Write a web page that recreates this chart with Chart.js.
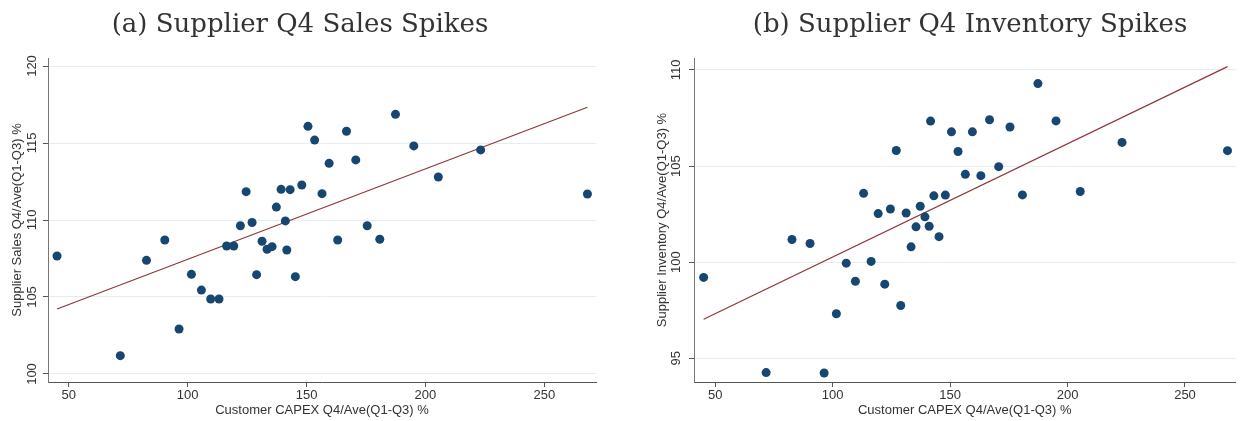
<!DOCTYPE html>
<html>
<head>
<meta charset="utf-8">
<script src="https://cdn.jsdelivr.net/npm/chart.js@4.4.0/dist/chart.umd.min.js"></script>
<style>
  body { margin: 0; background: #fff; }
  #wrap { position: relative; width: 1240px; height: 421px; overflow: hidden; }
  .panel { position: absolute; top: 0; width: 620px; height: 421px; }
  .ttl { position: absolute; top: 8px; font-family: "DejaVu Serif", serif; font-size: 26px; color: #333; white-space: nowrap; transform: translateX(-50%); }
</style>
</head>
<body>
<div id="wrap">
  <div class="panel" style="left:0"><canvas id="salesChart" width="620" height="421"></canvas></div>
  <div class="panel" style="left:620px"><canvas id="invChart" width="620" height="421"></canvas></div>
  <div class="ttl" style="left:300px">(a) Supplier Q4 Sales Spikes</div>
  <div class="ttl" style="left:970px">(b) Supplier Q4 Inventory Spikes</div>
</div>
<script>
// customer capex ratio, shared by both panels
const capexRatio = [45.1, 71.7, 82.7, 90.4, 96.4, 101.6, 105.8, 109.7, 113.2, 116.4,
  119.4, 122.2, 124.6, 127.1, 129.0, 131.3, 133.4, 135.5, 137.3, 139.3,
  141.1, 141.7, 143.1, 145.3, 148.0, 150.6, 153.4, 156.5, 159.5, 163.1,
  166.8, 170.7, 175.5, 180.8, 187.4, 195.1, 205.4, 223.2, 268.1];

const salesRatio = [107.66, 101.19, 107.38, 108.70, 102.92, 106.47, 105.45, 104.87, 104.87, 108.31,
  108.31, 109.63, 111.84, 109.84, 106.45, 108.62, 108.10, 108.27, 110.84, 111.99,
  109.94, 108.05, 111.97, 106.32, 112.27, 116.08, 115.19, 111.71, 113.68, 108.70,
  115.76, 113.90, 109.63, 108.75, 116.86, 114.81, 112.79, 114.55, 111.69];

const invRatio = [99.21, 94.26, 101.18, 100.97, 94.24, 97.32, 99.95, 99.01, 103.58, 100.04,
  102.53, 98.86, 102.77, 105.81, 97.75, 102.56, 100.80, 101.84, 102.91, 102.36,
  101.87, 107.34, 103.45, 101.33, 103.49, 106.78, 105.76, 104.57, 106.78, 104.50,
  107.41, 104.97, 107.03, 103.50, 109.29, 107.35, 103.68, 106.23, 105.80];

// fitted line end points
const fitX = [45.1, 268.1];
const salesFit = [104.22, 117.32];
const invFit = [97.03, 110.17];

const xTicks = [50, 100, 150, 200, 250];
const salesTicks = [100, 105, 110, 115, 120];
const invTicks = [95, 100, 105, 110];

const xTitle = 'Customer CAPEX Q4/Ave(Q1-Q3) %';
const sansFont = { family: 'Liberation Sans, Arial, sans-serif', size: 13 };

function makeChart(id, yVals, fitY, yTicks, yTitle, opt) {
  const pts = capexRatio.map((x, i) => ({ x: x, y: yVals[i] }));
  const line = fitX.map((x, i) => ({ x: x, y: fitY[i] }));
  return new Chart(document.getElementById(id), {
    type: 'scatter',
    data: {
      datasets: [
        {
          data: pts,
          pointRadius: 4.5,
          pointBorderWidth: 0,
          pointBackgroundColor: '#174670',
          order: 1
        },
        {
          type: 'line',
          data: line,
          borderColor: '#90353b',
          borderWidth: 1.2,
          pointRadius: 0,
          fill: false,
          order: 2
        }
      ]
    },
    options: {
      responsive: false,
      animation: false,
      layout: { padding: { left: 0, right: opt.padRight, top: 58, bottom: 0 } },
      plugins: { legend: { display: false }, tooltip: { enabled: false } },
      scales: {
        x: {
          type: 'linear',
          min: opt.xMin,
          max: opt.xMax,
          afterBuildTicks: s => { s.ticks = xTicks.map(v => ({ value: v })); },
          afterFit: s => { s.height = 39; },
          grid: { drawOnChartArea: false, drawTicks: true, tickLength: 5, tickColor: '#555' },
          border: { color: '#555', width: 1 },
          ticks: { color: '#333', font: sansFont, padding: 1, maxRotation: 0 },
          title: { display: true, text: xTitle, color: '#333', font: sansFont, padding: { top: 0, bottom: 3 } }
        },
        y: {
          min: opt.yMin,
          max: opt.yMax,
          afterBuildTicks: s => { s.ticks = yTicks.map(v => ({ value: v })); },
          afterFit: s => { s.width = opt.yWidth; },
          grid: { color: '#e4eef0', drawTicks: true, tickLength: 5, tickColor: '#555' },
          border: { color: '#777', width: 1 },
          ticks: { color: '#333', font: sansFont, minRotation: 90, maxRotation: 90, crossAlign: 'center', padding: opt.tickPad },
          title: { display: true, text: yTitle, color: '#333', font: sansFont, padding: { top: opt.titlePad, bottom: 0 } }
        }
      }
    }
  });
}

makeChart('salesChart', salesRatio, salesFit, salesTicks, 'Supplier Sales Q4/Ave(Q1-Q3) %',
  { xMin: 41.3, xMax: 271.7, yMin: 99.48, yMax: 120.52, yWidth: 48, padRight: 24, tickPad: 0, titlePad: 10 });

makeChart('invChart', invRatio, invFit, invTicks, 'Supplier Inventory Q4/Ave(Q1-Q3) %',
  { xMin: 41.0, xMax: 271.5, yMin: 93.77, yMax: 110.62, yWidth: 74, padRight: 0, tickPad: 2, titlePad: 35 });
</script>
</body>
</html>
